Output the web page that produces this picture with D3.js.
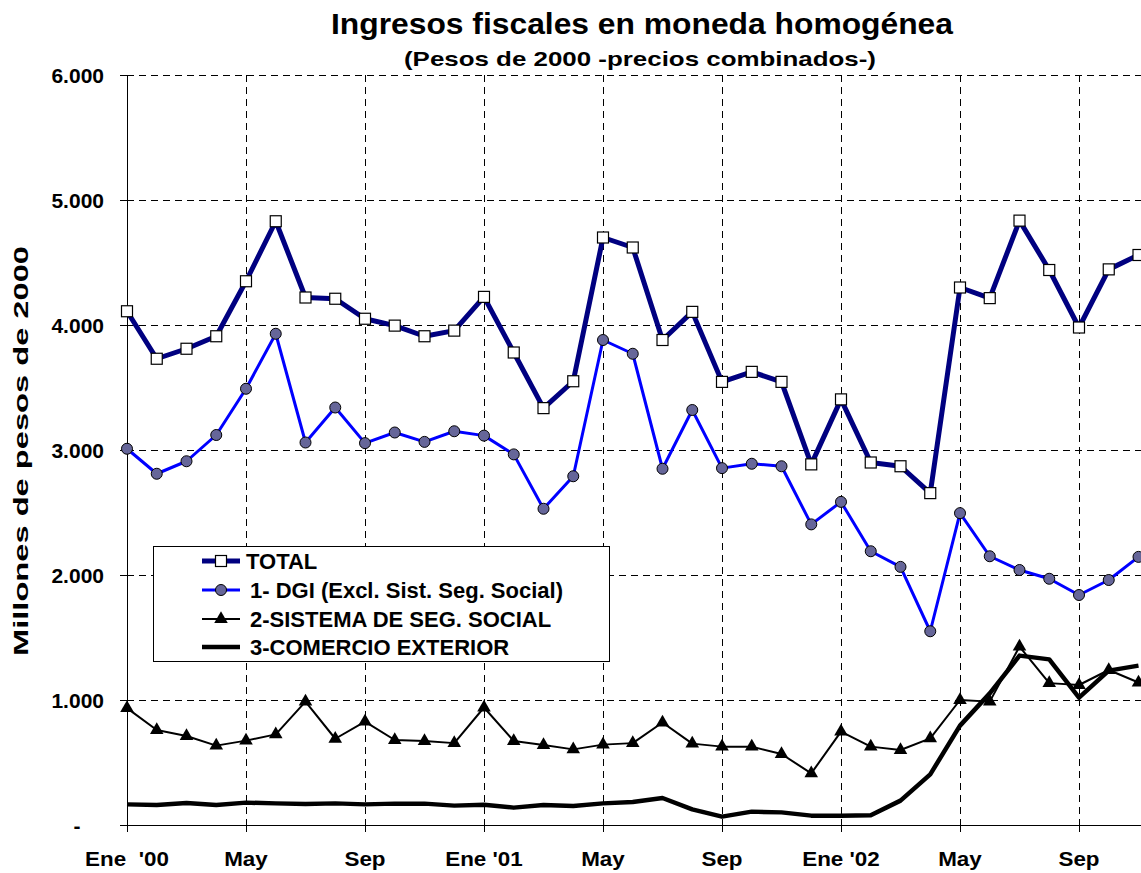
<!DOCTYPE html>
<html>
<head>
<meta charset="utf-8">
<script src="https://cdn.jsdelivr.net/npm/d3@7"></script>
<style>
  body { margin: 0; background: #fff; }
  text { font-family: "Liberation Sans", Arial, sans-serif; font-weight: bold; fill: #000; }
</style>
</head>
<body>
<svg width="1141" height="873"></svg>
<script>
// monthly values, Ene 2000 .. Nov 2002 (millones de pesos de 2000)
var total = [4110, 3730, 3810, 3910, 4350, 4830, 4220, 4210, 4050, 3995, 3910, 3955,
             4225, 3780, 3335, 3550, 4700, 4620, 3880, 4105, 3545, 3625, 3545, 2885,
             3405, 2900, 2870, 2655, 4300, 4215, 4835, 4440, 3980, 4445, 4560]
var dgi = [3010, 2810, 2910, 3120, 3490, 3930, 3060, 3340, 3055, 3140, 3065, 3150,
           3115, 2965, 2530, 2790, 3880, 3770, 2850, 3320, 2855, 2890, 2870, 2405,
           2585, 2190, 2065, 1550, 2495, 2150, 2040, 1970, 1840, 1960, 2145]
var segSocial = [935, 760, 712, 635, 675, 725, 987, 690, 827, 680, 672, 655,
                 940, 672, 640, 605, 643, 655, 820, 651, 627, 627, 568, 413,
                 747, 627, 600, 693, 1000, 987, 1427, 1135, 1120, 1240, 1140]
var comercio = [165, 160, 176, 160, 179, 173, 168, 173, 165, 171, 171, 155,
                162, 139, 160, 152, 173, 184, 216, 125, 67, 107, 101, 75,
                75, 78, 195, 405, 795, 1053, 1355, 1325, 1019, 1235, 1275]

var xTickMonths = [0, 4, 8, 12, 16, 20, 24, 28, 32]
var xTickLabels = ["Ene  '00", "May", "Sep", "Ene '01", "May", "Sep", "Ene '02", "May", "Sep"]
var yTicks = [0, 1000, 2000, 3000, 4000, 5000, 6000]
var yTickLabels = ["-", "1.000", "2.000", "3.000", "4.000", "5.000", "6.000"]
var legendNames = ["TOTAL", "1- DGI (Excl. Sist. Seg. Social)", "2-SISTEMA DE SEG. SOCIAL", "3-COMERCIO EXTERIOR"]

var svg = d3.select("svg")
var plotLeft = 127, plotTop = 75, plotBottom = 825, plotRight = 1141
var monthW = 29.75

var x = d3.scaleLinear().domain([0, 34]).range([plotLeft, plotLeft + 34 * monthW])
var y = d3.scaleLinear().domain([0, 6000]).range([plotBottom, plotTop])

// stretch text horizontally a bit, the original fonts are wide
function widen(sel, k) {
  sel.each(function() {
    var w = this.getComputedTextLength()
    d3.select(this).attr("textLength", w * k).attr("lengthAdjust", "spacingAndGlyphs")
  })
}

// gridlines
var grid = svg.append("g").attr("shape-rendering", "crispEdges")
grid.selectAll("line.h")
  .data(yTicks.slice(1))
  .join("line")
  .attr("class", "h")
  .attr("x1", plotLeft).attr("x2", plotRight)
  .attr("y1", d => y(d)).attr("y2", d => y(d))
  .attr("stroke", "#000").attr("stroke-width", 1).attr("stroke-dasharray", "7,5")
grid.selectAll("line.v")
  .data(xTickMonths.slice(1))
  .join("line")
  .attr("class", "v")
  .attr("x1", d => x(d)).attr("x2", d => x(d))
  .attr("y1", plotTop).attr("y2", plotBottom)
  .attr("stroke", "#000").attr("stroke-width", 1).attr("stroke-dasharray", "7,5")

// axes
var yAxis = svg.append("g")
  .attr("transform", "translate(" + plotLeft + ",0)")
  .call(d3.axisLeft(y).tickValues(yTicks).tickFormat("").tickSize(7).tickSizeOuter(0))
var xAxis = svg.append("g")
  .attr("transform", "translate(0," + plotBottom + ")")
  .call(d3.axisBottom(x).tickValues(xTickMonths).tickFormat("").tickSize(7).tickSizeOuter(0))
xAxis.select(".domain").attr("d", "M" + (plotLeft - 7) + ",0H" + plotRight)
svg.selectAll(".domain, .tick line").attr("stroke", "#000").attr("stroke-width", 1)
  .attr("shape-rendering", "crispEdges")

// tick labels
svg.append("g").selectAll("text")
  .data(yTicks)
  .join("text")
  .attr("x", (d, i) => yTickLabels[i] == "-" ? 77 : 104)
  .attr("y", d => y(d) + 7.5)
  .attr("text-anchor", (d, i) => yTickLabels[i] == "-" ? "middle" : "end")
  .attr("font-size", 21)
  .text((d, i) => yTickLabels[i])

svg.append("g").selectAll("text")
  .data(xTickMonths)
  .join("text")
  .attr("x", d => x(d))
  .attr("y", 866)
  .attr("text-anchor", "middle")
  .attr("font-size", 20)
  .style("white-space", "pre")
  .text((d, i) => xTickLabels[i])
  .call(widen, 1.12)

// titles
svg.append("text")
  .attr("x", 642).attr("y", 34)
  .attr("text-anchor", "middle")
  .attr("font-size", 29)
  .attr("textLength", 622).attr("lengthAdjust", "spacingAndGlyphs")
  .text("Ingresos fiscales en moneda homogénea")
svg.append("text")
  .attr("x", 640).attr("y", 66)
  .attr("text-anchor", "middle")
  .attr("font-size", 21)
  .attr("textLength", 472).attr("lengthAdjust", "spacingAndGlyphs")
  .text("(Pesos de 2000 -precios combinados-)")
svg.append("text")
  .attr("transform", "translate(28,451) rotate(-90)")
  .attr("text-anchor", "middle")
  .attr("font-size", 21)
  .attr("textLength", 410).attr("lengthAdjust", "spacingAndGlyphs")
  .text("Millones de pesos de 2000")

// series
var line = d3.line().x((d, i) => x(i)).y(d => y(d))

svg.append("path").datum(comercio)
  .attr("d", line).attr("fill", "none")
  .attr("stroke", "#000").attr("stroke-width", 4.5).attr("stroke-linejoin", "round")

svg.append("path").datum(segSocial)
  .attr("d", line).attr("fill", "none")
  .attr("stroke", "#000").attr("stroke-width", 2).attr("stroke-linejoin", "round")
var tri = d3.symbol().type(d3.symbolTriangle).size(80)
svg.append("g").selectAll("path")
  .data(segSocial)
  .join("path")
  .attr("d", tri)
  .attr("transform", (d, i) => "translate(" + x(i) + "," + y(d) + ")")
  .attr("fill", "#000")

svg.append("path").datum(dgi)
  .attr("d", line).attr("fill", "none")
  .attr("stroke", "#0000ff").attr("stroke-width", 3).attr("stroke-linejoin", "round")
svg.append("g").selectAll("circle")
  .data(dgi)
  .join("circle")
  .attr("cx", (d, i) => x(i)).attr("cy", d => y(d))
  .attr("r", 5.5)
  .attr("fill", "#666699").attr("stroke", "#000").attr("stroke-width", 1)

svg.append("path").datum(total)
  .attr("d", line).attr("fill", "none")
  .attr("stroke", "#000080").attr("stroke-width", 5).attr("stroke-linejoin", "round")
svg.append("g").selectAll("rect")
  .data(total)
  .join("rect")
  .attr("x", (d, i) => x(i) - 5.5).attr("y", d => y(d) - 5.5)
  .attr("width", 11).attr("height", 11)
  .attr("fill", "#fff").attr("stroke", "#000").attr("stroke-width", 1.2)

// legend
var legend = svg.append("g").attr("transform", "translate(153,546)")
legend.append("rect")
  .attr("width", 456).attr("height", 115)
  .attr("fill", "#fff").attr("stroke", "#000").attr("stroke-width", 1)
  .attr("shape-rendering", "crispEdges")

var rowY = [15, 44, 73, 101]
var legColors = ["#000080", "#0000ff", "#000", "#000"]
var legWidths = [5, 3, 2, 4.5]
legendNames.forEach(function(name, i) {
  var g = legend.append("g").attr("transform", "translate(0," + rowY[i] + ")")
  g.append("line")
    .attr("x1", 49).attr("x2", 87)
    .attr("stroke", legColors[i]).attr("stroke-width", legWidths[i])
  if (i == 0) {
    g.append("rect").attr("x", 62.5).attr("y", -5.5).attr("width", 11).attr("height", 11)
      .attr("fill", "#fff").attr("stroke", "#000").attr("stroke-width", 1.2)
  } else if (i == 1) {
    g.append("circle").attr("cx", 68).attr("r", 5.5)
      .attr("fill", "#666699").attr("stroke", "#000")
  } else if (i == 2) {
    g.append("path").attr("d", tri).attr("transform", "translate(68,0)").attr("fill", "#000")
  }
  g.append("text")
    .attr("x", i == 0 ? 93 : 97).attr("y", 8)
    .attr("font-size", 22)
    .text(name)
})
</script>
</body>
</html>
